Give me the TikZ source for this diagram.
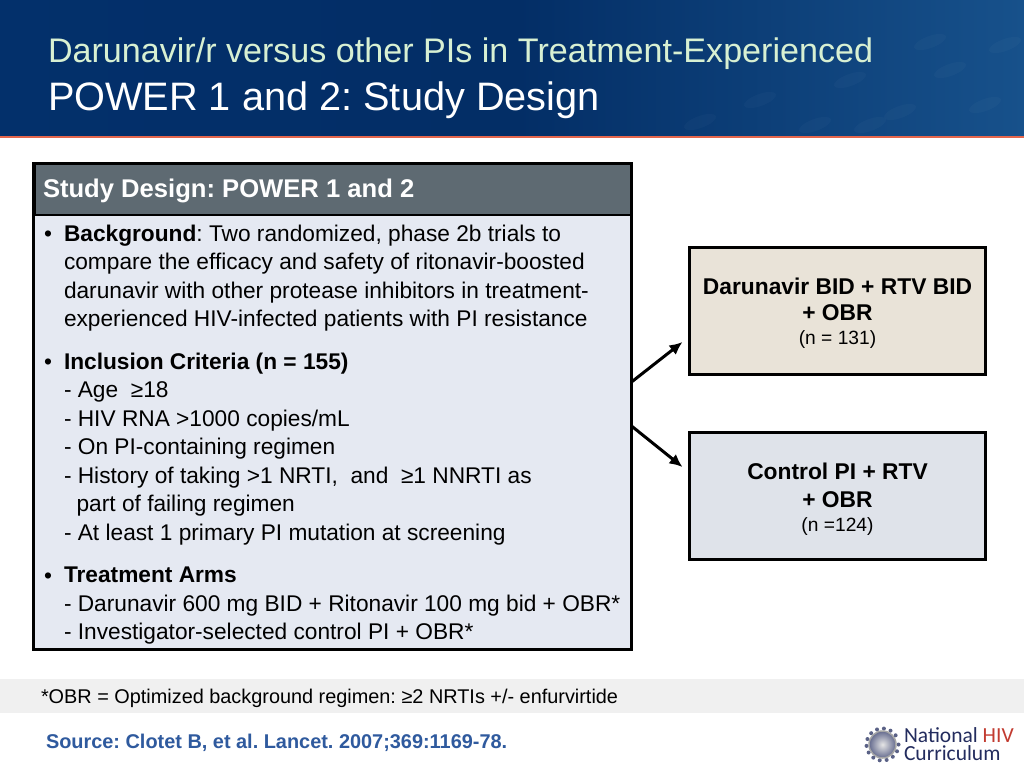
\documentclass[tikz,border=0pt]{standalone}
\usepackage{fontspec}
\setmainfont{Liberation Sans}
\newfontfamily\logofont{Carlito}
\usetikzlibrary{arrows.meta}
\definecolor{navy}{HTML}{03306B}
\definecolor{bannerblue}{HTML}{17518B}
\definecolor{titlegreen}{HTML}{D8F0D2}
\definecolor{headgrey}{HTML}{5E6A72}
\definecolor{panelblue}{HTML}{E5E9F2}
\definecolor{armtan}{HTML}{E9E3D8}
\definecolor{armgrey}{HTML}{DFE3EA}
\definecolor{sourceblue}{HTML}{2F5A9E}
\definecolor{logonavy}{HTML}{232C5E}
\definecolor{logored}{HTML}{C23B30}
\begin{document}
\frenchspacing
\begin{tikzpicture}[x=1pt,y=-1pt]
        \tikzstyle{every node}=[inner sep=0pt, outer sep=0pt]
        \tikzstyle{bodytext}=[anchor=north west, align=left, font=\fontsize{22.7}{28.5}\selectfont]
        \tikzstyle{bulletmark}=[anchor=base west, font=\fontsize{22.7}{28.5}\selectfont]
        \tikzstyle{armbox}=[draw=black, line width=2.5pt, minimum width=296, minimum height=127]
        \tikzstyle{armarrow}=[-{Latex[length=13pt,width=12pt]}, line width=3pt, black]
        \useasboundingbox (0,0) rectangle (1024,768);
        % banner
        \fill[white] (0,0) rectangle (1024,768);
        \shade[left color=navy, right color=bannerblue, middle color=navy!95!black] (0,0) rectangle (1024,136);
        \foreach \x/\y in {700/122,760/100,815/125,850/80,900/112,950/70,985/105,930/42,1005/45,870/125}
            \fill[white, opacity=0.025, rotate around={20:(\x,\y)}] (\x,\y) ellipse (17 and 6);
        \fill[red!50!brown!80!white] (0,136) rectangle (1024,138);
        \node[anchor=base west, text=titlegreen, font=\fontsize{34.1}{34}\selectfont] (title) at (48,62.5) {Darunavir/r versus other PIs in Treatment-Experienced};
        \node[anchor=base west, text=white, font=\fontsize{39.7}{40}\selectfont] (subtitle) at (48,110) {POWER 1 and 2: Study Design};
        % left panel
        \node[draw=black, line width=3pt, fill=panelblue, minimum width=598, minimum height=486] (panel) at (332.5,406) {};
        \node[draw=black, line width=2pt, fill=headgrey, minimum width=596, minimum height=51] (head) at (332.5,189) {};
        \node[anchor=base west, text=white, font=\fontsize{25.6}{26}\selectfont\bfseries] (headtext) at (43,197) {Study Design: POWER 1 and 2};
        \node[bulletmark] (bulletA) at (44,241) {\textbullet};
        \node[bodytext] (background) at (64,225) {\textbf{Background}: Two randomized, phase 2b trials to\\compare the efficacy and safety of ritonavir-boosted\\darunavir with other protease inhibitors in treatment-\\experienced HIV-infected patients with PI resistance};
        \node[bulletmark] (bulletB) at (44,369) {\textbullet};
        \node[bodytext] (inclusion) at (64,353) {\textbf{Inclusion Criteria (n = 155)}\\- Age\ \ ≥18\\- HIV RNA >1000 copies/mL\\- On PI-containing regimen\\- History of taking >1 NRTI,\ \ and\ \ ≥1 NNRTI as\\\ \ part of failing regimen\\- At least 1 primary PI mutation at screening};
        \node[bulletmark] (bulletC) at (44,583) {\textbullet};
        \node[bodytext] (arms) at (64,567) {\textbf{Treatment Arms}\\- Darunavir 600 mg BID + Ritonavir 100 mg bid + OBR*\\- Investigator-selected control PI + OBR*};
        % treatment arms
        \node[armbox, fill=armtan] (boxA) at (837.5,311) {};
        \node[armbox, fill=armgrey] (boxB) at (837.5,496) {};
        \node[align=center, font=\fontsize{22.8}{26}\selectfont] (labelA) at ([yshift=-2.5pt]boxA.center) {\textbf{Darunavir BID + RTV BID}\\\textbf{+ OBR}\\[-2pt]{\fontsize{19.2}{24}\selectfont (n = 131)}};
        \node[align=center, font=\fontsize{22.8}{28}\selectfont] (labelB) at ([yshift=-3.5pt]boxB.center) {\textbf{Control PI + RTV}\\\textbf{+ OBR}\\[-4pt]{\fontsize{19.2}{24}\selectfont (n =124)}};
        \draw[armarrow] ([yshift=24pt]panel.east) -- ([xshift=-7pt,yshift=-31pt]boxA.west);
        \draw[armarrow] ([yshift=-20pt]panel.east) -- ([xshift=-7pt,yshift=29pt]boxB.west);
        % footer
        \fill[black!6] (0,679) rectangle (1024,713);
        \node[anchor=base west, font=\fontsize{19.87}{20}\selectfont] (footnote) at (41,703) {*OBR = Optimized background regimen: ≥2 NRTIs +/- enfurvirtide};
        \node[anchor=base west, text=sourceblue, font=\fontsize{19.9}{20}\selectfont\bfseries] (source) at (46,748) {Source: Clotet B, et al. Lancet. 2007;369:1169-78.};
        % logo
        \foreach \a in {0,25,...,335}
            \fill[logonavy!75] (882.5,744.5) ++(\a:16) circle (2);
        \node[circle, draw=black!35, line width=1.5pt, inner color=black!10, outer color=logonavy!70, minimum size=27] (logo) at (882.5,744.5) {};
        \node[anchor=north west, align=left, text=logonavy, font=\logofont\fontsize{21.5}{18}\selectfont] (logotext) at (904,728) {National \textcolor{logored}{HIV}\\Curriculum};
    \end{tikzpicture}
\end{document}
